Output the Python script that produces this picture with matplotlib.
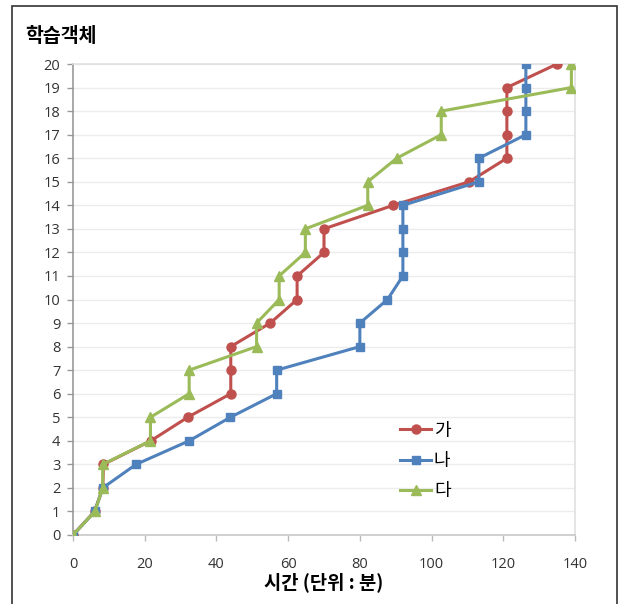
import matplotlib
matplotlib.use("Agg")
import matplotlib.pyplot as plt
from matplotlib.patches import Rectangle

plt.rcParams['font.family'] = ['Noto Sans CJK KR', 'DejaVu Sans']

# cumulative learning objects (y) reached at elapsed time in minutes (x)
objects = list(range(0, 21))
time_ga = [0, 6, 8.3, 8.5, 21.7, 32, 44, 44, 44, 55, 62.5, 62.5, 70, 70, 89.3, 110.5, 121, 121, 121, 121, 135]
time_na = [0, 6.1, 8.3, 17.6, 32.4, 43.9, 56.8, 56.8, 80, 80, 87.7, 92, 92, 92, 92, 113.2, 113.2, 126.3, 126.3, 126.3, 126.3]
time_da = [0, 6.1, 8.3, 8.3, 21.6, 21.6, 32.4, 32.4, 51.2, 51.2, 57.5, 57.5, 64.8, 64.8, 82.2, 82.2, 90.3, 102.7, 102.7, 139, 139]

series_names = ['가', '나', '다']
x_ticks = [0, 20, 40, 60, 80, 100, 120, 140]
y_ticks = list(range(0, 21))

fig = plt.figure(figsize=(6.19, 6.04), dpi=100)
fig.patches.append(Rectangle((12 / 619, -0.02), 605 / 619, 1 - 6 / 604 + 0.02,
                             transform=fig.transFigure, fill=False,
                             edgecolor='#333333', linewidth=1.2))

ax = fig.add_axes([73 / 619, 1 - 535 / 604, (575 - 73) / 619, (535 - 64) / 604])

ax.plot(time_ga, objects, color='#C0504D', marker='o', markersize=6.5, linewidth=2.2, label=series_names[0], zorder=3)
ax.plot(time_na, objects, color='#4F81BD', marker='s', markersize=5.5, linewidth=2.2, label=series_names[1], zorder=3)
ax.plot(time_da, objects, color='#9BBB59', marker='^', markersize=7.5, linewidth=2.2, label=series_names[2], zorder=3)

ax.set_xlim(0, 140)
ax.set_ylim(0, 20)
ax.set_xticks(x_ticks)
ax.set_yticks(y_ticks)
ax.tick_params(axis='both', length=4, width=1, direction='out')
ax.tick_params(axis='x', colors='#bbbbbb', labelcolor='#333333', pad=12)
ax.tick_params(axis='y', colors='#999999', labelcolor='#333333', pad=5)
for lbl in ax.get_xticklabels() + ax.get_yticklabels():
    lbl.set_fontfamily(['Open Sans', 'DejaVu Sans'])
    lbl.set_fontsize(10.5)

ax.grid(axis='y', color='#ececec', linewidth=1)
ax.set_axisbelow(True)
for side in ['top', 'right']:
    ax.spines[side].set_color('#e0e0e0')
ax.spines['left'].set_color('#999999')
ax.spines['bottom'].set_color('#c8c8c8')
for s in ax.spines.values():
    s.set_linewidth(1.2)

ax.set_xlabel('시간 (단위 : 분)', fontsize=13.5, fontweight='bold', labelpad=0)
fig.text(25 / 619, 1 - 37 / 604, '학습객체', fontsize=14, fontweight='bold', va='center', ha='left')

ax.legend(loc='center left', bbox_to_anchor=(0.62, 0.157), frameon=False,
          fontsize=13, handlelength=1.7, handletextpad=0.15, labelspacing=0.68)

fig.savefig('out.png', dpi=100)
